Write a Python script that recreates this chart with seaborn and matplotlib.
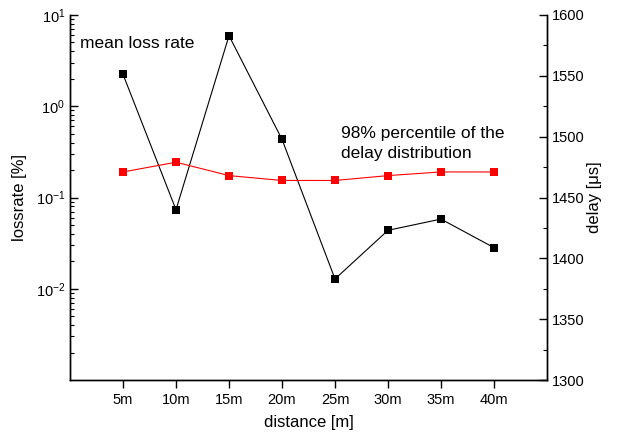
import matplotlib
matplotlib.use("Agg")
import matplotlib.pyplot as plt
import matplotlib.ticker as mticker
import seaborn as sns
import pandas as pd
import numpy as np

distance = [5, 10, 15, 20, 25, 30, 35, 40]
tick_labels = ["5m", "10m", "15m", "20m", "25m", "30m", "35m", "40m"]
loss_rate = [2.24, 0.0734, 5.93, 0.434, 0.0128, 0.0437, 0.058, 0.0282]
delay_98 = [1471, 1479, 1468, 1464, 1464, 1468, 1471, 1471]

df = pd.DataFrame({"distance": distance, "loss": loss_rate, "delay": delay_98})

sns.set_style("ticks")
plt.rcParams["font.family"] = ["Liberation Sans", "DejaVu Sans"]
plt.rcParams.update({
    "text.color": "black", "axes.labelcolor": "black", "axes.edgecolor": "black",
    "xtick.color": "black", "ytick.color": "black",
})

fig = plt.figure(figsize=(6.21, 4.41), dpi=100)
ax = fig.add_axes([70/621, 1-380/441, 477/621, 365/441])
ax2 = ax.twinx()

sns.lineplot(data=df, x="distance", y="loss", ax=ax, color="black", marker="s",
             markersize=6, markeredgewidth=0, linewidth=0.8, zorder=3)
sns.lineplot(data=df, x="distance", y="delay", ax=ax2, color="#ff0000", marker="s",
             markersize=6, markeredgewidth=0, linewidth=0.8, zorder=3)

ax.set_yscale("log")
ax.set_ylim(1e-3, 1e1)
ax.set_xlim(0, 45)
ax.set_xticks(distance)
ax.set_xticklabels(tick_labels)
ax.yaxis.set_major_locator(mticker.FixedLocator([1e-2, 1e-1, 1e0, 1e1]))
ax.yaxis.set_minor_locator(mticker.LogLocator(base=10, subs=np.arange(2, 10), numticks=20))
ax.yaxis.set_minor_formatter(mticker.NullFormatter())

ax2.set_ylim(1300, 1600)
ax2.yaxis.set_major_locator(mticker.MultipleLocator(50))
ax2.yaxis.set_minor_locator(mticker.MultipleLocator(25))

for a in (ax, ax2):
    a.spines["top"].set_visible(False)
    for s in a.spines.values():
        s.set_linewidth(1.0)
        s.set_color("black")

ax.tick_params(axis="x", direction="out", length=6, width=1, labelsize=10.5, pad=3, colors="black")
ax.tick_params(axis="y", which="major", direction="in", length=6, width=1, labelsize=10.5, colors="black")
ax.tick_params(axis="y", which="minor", direction="in", length=3, width=0.8, colors="black")
ax2.tick_params(axis="y", which="major", direction="in", length=6, width=1, labelsize=10.5, colors="black")
ax2.tick_params(axis="y", which="minor", direction="in", length=3, width=0.8, colors="black")

ax.set_xlabel("distance [m]", fontsize=12, labelpad=6, color="black")
ax.set_ylabel("lossrate [%]", fontsize=12, labelpad=6, color="black")
ax2.set_ylabel("delay [μs]", fontsize=12, labelpad=2, color="black")

ax.text(0.021, 0.921, "mean loss rate", transform=ax.transAxes, fontsize=12.5,
        va="center", ha="left", color="black")
ax.text(0.568, 0.649, "98% percentile of the\ndelay distribution", transform=ax.transAxes,
        fontsize=12.5, va="center", ha="left", linespacing=1.4, color="black")

fig.savefig("out.png", dpi=100)
